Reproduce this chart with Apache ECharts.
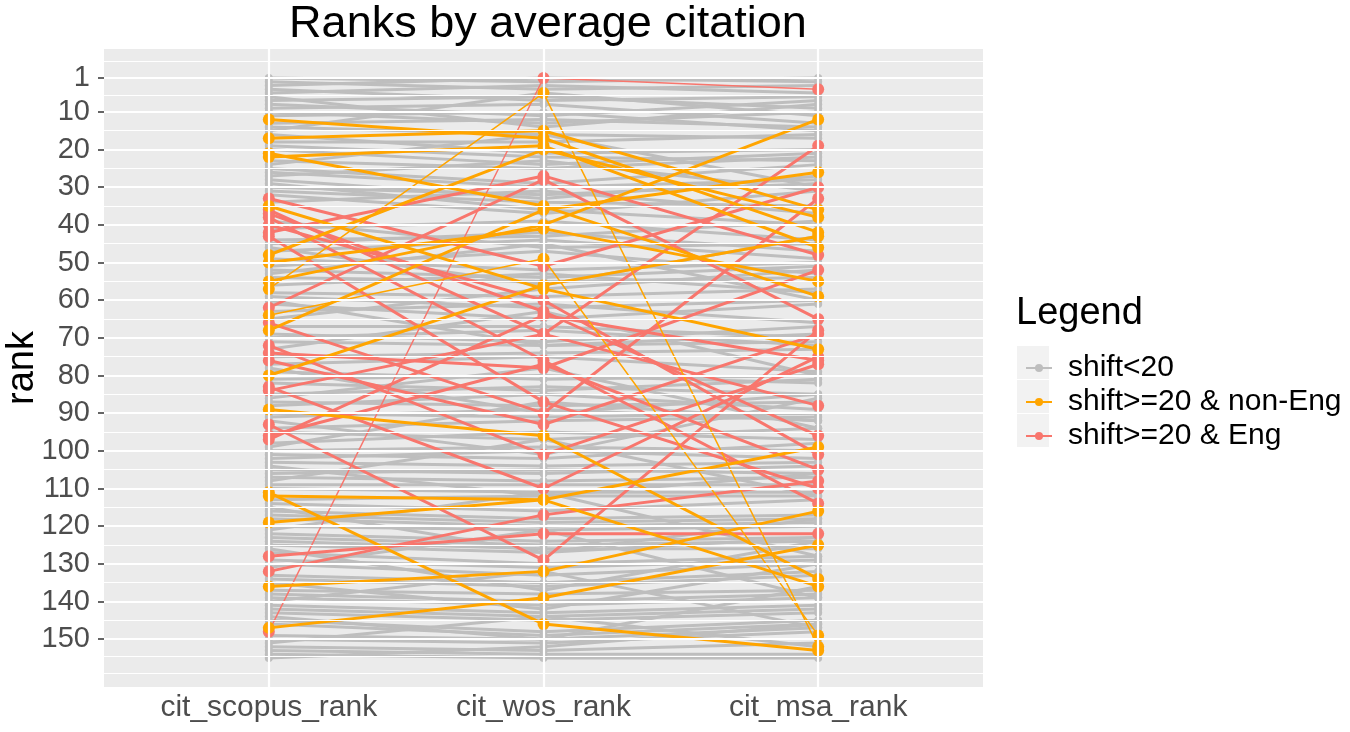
<!DOCTYPE html>
<html>
<head>
<meta charset="utf-8">
<script src="https://cdn.jsdelivr.net/npm/echarts@6/dist/echarts.min.js"></script>
<style>html,body{margin:0;padding:0;background:#fff}#c{width:1350px;height:732px}</style>
</head>
<body>
<div id="c"></div>
<script>
// ---------- data ----------
const categories = ['cit_scopus_rank', 'cit_wos_rank', 'cit_msa_rank'];
const yTickLabels = [1, 10, 20, 30, 40, 50, 60, 70, 80, 90, 100, 110, 120, 130, 140, 150];
const legendNames = ['shift<20', 'shift>=20 & non-Eng', 'shift>=20 & Eng'];

// [scopus, wos, msa] ranks
const grayRanks = [
  [1,2,1],[2,4,3],[3,1,2],[4,7,6],[5,3,5],[6,14,8],[7,6,9],[8,11,7],[9,8,13],[10,13,10],
  [11,10,15],[13,12,14],[14,16,17],[15,5,11],[16,21,20],[18,18,16],[19,22,23],[20,24,21],
  [23,25,22],[24,16,30],[25,29,24],[26,30,28],[27,23,31],[28,33,27],[29,36,40],[30,32,29],
  [31,34,35],[32,37,31],[34,31,37],[39,46,45],[41,39,44],[44,43,39],[45,42,47],[46,56,43],
  [47,44,49],[49,52,50],[51,47,53],[52,54,51],[53,45,60],[54,55,54],[56,53,58],[58,59,57],
  [59,62,60],[60,72,69],[61,65,61],[63,61,66],[65,57,52],[67,67,70],[69,71,67],[70,68,72],
  [71,72,71],[73,63,80],[75,74,73],[77,75,79],[78,90,85],[79,81,80],[81,80,82],[82,84,81],
  [85,83,85],[86,78,94],[87,88,87],[88,85,89],[90,91,90],[91,89,92],[92,101,86],[94,92,91],
  [95,97,94],[98,95,97],[99,87,92],[100,99,100],[101,102,98],[102,100,102],[103,104,103],
  [104,112,106],[105,106,104],[106,105,106],[107,108,107],[108,97,112],[109,109,109],[110,111,111],
  [113,112,112],[114,116,113],[115,127,118],[116,118,117],[117,119,118],[118,120,119],[120,121,120],
  [121,111,128],[122,124,123],[123,125,124],[124,126,126],[125,127,123],[126,137,124],[127,130,128],
  [129,131,129],[130,133,130],[131,121,139],[133,135,132],[134,136,133],[135,142,130],
  [137,138,137],[138,140,138],[139,141,139],[140,132,147],[141,143,141],[142,144,142],
  [143,145,143],[144,150,136],[145,148,145],[146,149,146],[149,150,147],[150,151,148],
  [151,144,152],[152,153,151],[153,154,154],[154,155,155],[155,152,146]
];
const nonEngRanks = [
  [12,17,42],[17,15,36],[21,35,59],[22,19,46],[35,57,73],[48,20,38],[55,40,12],[57,5,152],
  [64,49,149],[68,36,26],[80,56,43],[89,96,134],[112,113,136],[119,113,99],[136,132,116],
  [147,139,125],[111,146,153],[50,41,55]
];
const engRanks = [
  [148,1,4],[42,27,48],[62,28,65],[33,51,30],[36,69,19],[37,63,96],[38,76,114],[40,60,101],
  [43,87,110],[66,90,33],[72,101,77],[74,78,52],[76,93,69],[83,110,75],[84,69,88],[93,129,68],
  [96,77,105],[97,64,76],[128,122,122],[132,117,108]
];

// ---------- chart ----------
const FONT = '"Liberation Sans", Arial, sans-serif';
const colors = { gray: '#BEBEBE', orange: '#FFA500', red: '#F8766D' };

const allVals = [].concat(...grayRanks, ...nonEngRanks, ...engRanks);
const dMin = Math.min(...allVals), dMax = Math.max(...allVals);
const pad = (dMax - dMin) * 0.05;

// ggplot-style minor grid lines: midpoints between major breaks (+ one extra beyond the ends)
const minorBreaks = [];
const step0 = yTickLabels[1] - yTickLabels[0];
minorBreaks.push(yTickLabels[0] - step0 / 2);
for (let i = 0; i < yTickLabels.length - 1; i++) minorBreaks.push((yTickLabels[i] + yTickLabels[i + 1]) / 2);
const lastB = yTickLabels[yTickLabels.length - 1];
minorBreaks.push(lastB + step0 / 2, lastB + step0);

function makeSeries(name, color, ranks, z, size, width) {
  const maxJump = Math.max(Math.abs(ranks[0] - ranks[1]), Math.abs(ranks[1] - ranks[2]));
  return {
    type: 'line', name: name, z: z,
    data: ranks.map((v, i) => [i + 1, v]),
    symbol: 'circle', symbolSize: size, showSymbol: true, showAllSymbol: true,
    lineStyle: { color: color, width: maxJump > 90 ? 1.5 : width },
    itemStyle: { color: color, opacity: 1 },
    emphasis: { disabled: true },
    animation: false, silent: true
  };
}

const series = [];
series.push({
  type: 'line', name: 'grid', data: [], z: 1, silent: true, animation: false,
  markLine: {
    silent: true, animation: false, symbol: ['none', 'none'], label: { show: false },
    lineStyle: { color: '#FFFFFF', type: 'solid', width: 1.1 },
    emphasis: { disabled: true },
    data: [].concat(
      minorBreaks.map(v => ({ yAxis: v, lineStyle: { width: 1.1, color: '#FFFFFF', type: 'solid' } })),
      yTickLabels.map(v => ({ yAxis: v, lineStyle: { width: 2.2, color: '#FFFFFF', type: 'solid' } })),
      categories.map((c, i) => ({ xAxis: i + 1, lineStyle: { width: 2.2, color: '#FFFFFF', type: 'solid' } }))
    )
  }
});
grayRanks.forEach(r => series.push(makeSeries(legendNames[0], colors.gray, r, 2, 8, 3)));
engRanks.forEach(r => series.push(makeSeries(legendNames[2], colors.red, r, 3, 12, 3)));
nonEngRanks.forEach(r => series.push(makeSeries(legendNames[1], colors.orange, r, 4, 12, 3)));

const chart = echarts.init(document.getElementById('c'), null, { renderer: 'canvas' });
chart.setOption({
  backgroundColor: '#FFFFFF',
  animation: false,
  textStyle: { fontFamily: FONT },
  title: {
    text: 'Ranks by average citation',
    left: 543, top: -3, textAlign: 'center',
    textStyle: { fontFamily: FONT, fontSize: 45, fontWeight: 'normal', color: '#000000' }
  },
  grid: {
    left: 104, top: 49, width: 879, height: 638,
    show: true, backgroundColor: '#EBEBEB', borderWidth: 0,
    containLabel: false, outerBoundsMode: 'none'
  },
  legend: {
    data: legendNames,
    orient: 'vertical', left: 1020, top: 348,
    itemWidth: 26, itemHeight: 10, itemGap: 4,
    selectedMode: false,
    textStyle: { fontFamily: FONT, fontSize: 30, color: '#000000', lineHeight: 30, padding: [0, 0, 0, 11] }
  },
  graphic: [
    { type: 'rect', shape: { x: 1017, y: 346, width: 32, height: 33 }, style: { fill: '#F2F2F2' }, z: -1, silent: true },
    { type: 'rect', shape: { x: 1017, y: 380, width: 32, height: 33 }, style: { fill: '#F2F2F2' }, z: -1, silent: true },
    { type: 'rect', shape: { x: 1017, y: 414, width: 32, height: 33 }, style: { fill: '#F2F2F2' }, z: -1, silent: true },
    { type: 'text', style: { x: 1016, y: 314, text: 'Legend', font: '38px ' + FONT, fill: '#000000', verticalAlign: 'middle' }, silent: true }
  ],
  xAxis: {
    type: 'value', min: 0.4, max: 3.6,
    axisLine: { show: false },
    splitLine: { show: false },
    axisTick: { show: true, customValues: [1, 2, 3], length: 6, lineStyle: { color: '#333333', width: 1.5 } },
    axisLabel: {
      customValues: [1, 2, 3], margin: 6,
      formatter: v => categories[Math.round(v) - 1] || '',
      fontFamily: FONT, fontSize: 30, color: '#4D4D4D'
    }
  },
  yAxis: {
    type: 'value', inverse: true,
    min: dMin - pad, max: dMax + pad,
    name: 'rank', nameLocation: 'middle', nameGap: 62, nameRotate: 90, nameMoveOverlap: false,
    nameTextStyle: { fontFamily: FONT, fontSize: 38, color: '#000000' },
    axisLine: { show: false },
    splitLine: { show: false },
    axisTick: { show: true, customValues: yTickLabels, length: 6, lineStyle: { color: '#333333', width: 1.5 } },
    axisLabel: { customValues: yTickLabels, margin: 14, fontFamily: FONT, fontSize: 29, color: '#4D4D4D' }
  },
  series: series
});
</script>
</body>
</html>
